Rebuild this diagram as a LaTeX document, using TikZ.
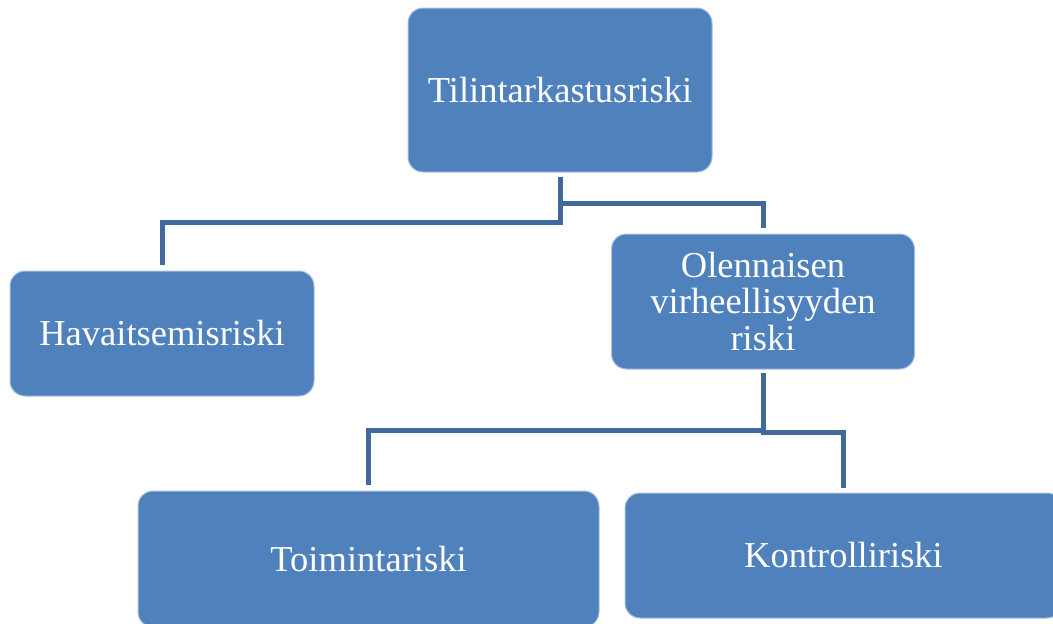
\documentclass[tikz,border=0pt]{standalone}
\usepackage{fontspec}
\setmainfont{Liberation Serif}
\definecolor{boxblue}{HTML}{4F81BD}
\definecolor{boxedge}{HTML}{A9C0DF}
\definecolor{linkblue}{HTML}{41699B}
\begin{document}
\begin{tikzpicture}[x=1pt,y=-1pt,
  riskbox/.style={draw=boxedge, line width=1pt, fill=boxblue, rounded corners=15pt,
    text=white, align=center, inner sep=0pt,
    font=\fontsize{36.5}{36.6}\selectfont},
  conn/.style={draw=linkblue, line width=5pt, line join=miter}]
\useasboundingbox (0,0) rectangle (1053,624);
\node[riskbox, minimum width=304pt, minimum height=164pt] (top) at (560,90) {Tilintarkastusriski};
\node[riskbox, minimum width=304pt, minimum height=125pt] (havait) at (162,333.5) {Havaitsemisriski};
\node[riskbox, minimum width=303pt, minimum height=135pt] (olenn) at (763,301.5) {Olennaisen\\virheellisyyden\\riski};
\node[riskbox, minimum width=461pt, minimum height=136pt] (toim) at (368.5,559) {Toimintariski};
\node[riskbox, minimum width=437pt, minimum height=125pt] (kontr) at (843.5,555.5) {Kontrolliriski};
\draw[conn, shorten <=4pt, shorten >=6pt] (top.south) -- ++(0,-50pt) -| (havait.north);
\draw[conn, shorten <=4pt, shorten >=6pt] (top.south) -- ++(0,-31pt) -| (olenn.north);
\draw[conn, shorten <=3pt, shorten >=6pt] (olenn.south) -- ++(0,-61pt) -| (toim.north);
\draw[conn, shorten <=3pt, shorten >=5pt] (olenn.south) -- ++(0,-63pt) -| (kontr.north);
\end{tikzpicture}
\end{document}
